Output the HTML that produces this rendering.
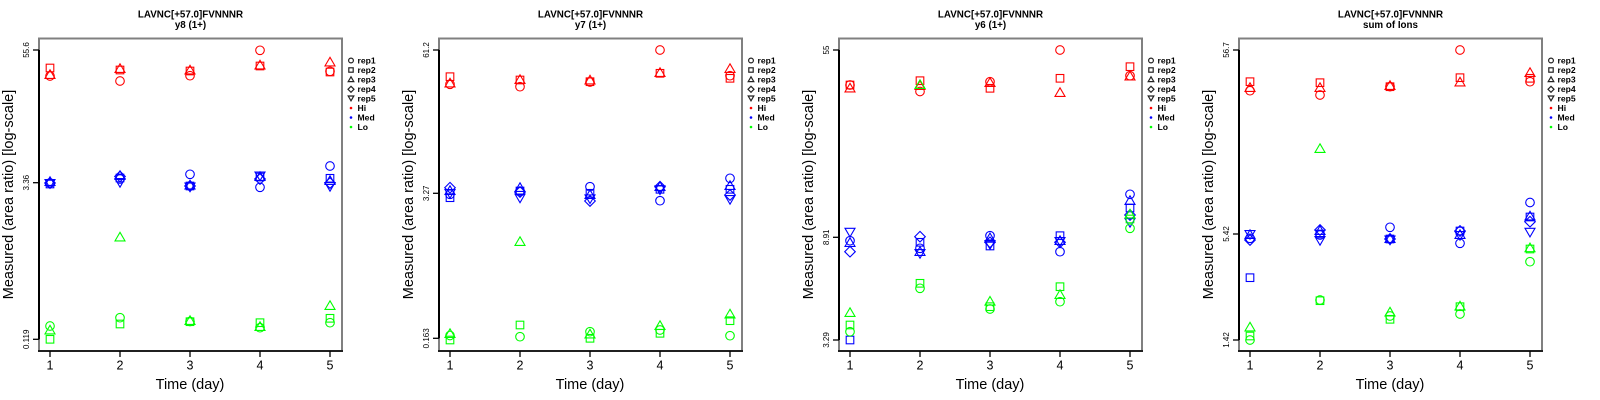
<!DOCTYPE html>
<html><head><meta charset="utf-8"><style>
html,body{margin:0;padding:0;background:#fff;}
svg{display:block;}
text{font-family:"Liberation Sans",Arial,sans-serif;}
</style></head><body>
<svg width="1600" height="400" viewBox="0 0 1600 400" xmlns="http://www.w3.org/2000/svg">
<defs>
<circle id="c" cx="0" cy="0" r="4.3"/>
<rect id="s" x="-3.8" y="-3.8" width="7.6" height="7.6"/>
<path id="t" d="M0,-5.2 L5,3.4 L-5,3.4 Z"/>
<path id="d" d="M0,-5.3 L5.3,0 L0,5.3 L-5.3,0 Z"/>
<path id="v" d="M0,5.2 L5,-3.4 L-5,-3.4 Z"/>
<g id="frame">
<rect x="39" y="38.5" width="303" height="312.5" fill="none" stroke="#808080" stroke-width="2"/>
<line x1="38" y1="351" x2="343" y2="351" stroke="#000" stroke-width="1.6"/>
<g stroke="#000" stroke-width="1.3">
<line x1="50" y1="351" x2="50" y2="357"/><line x1="120" y1="351" x2="120" y2="357"/><line x1="190" y1="351" x2="190" y2="357"/><line x1="260" y1="351" x2="260" y2="357"/><line x1="330" y1="351" x2="330" y2="357"/>
</g>
<g font-size="12.5" text-anchor="middle" fill="#000">
<text x="50" y="369.5">1</text><text x="120" y="369.5">2</text><text x="190" y="369.5">3</text><text x="260" y="369.5">4</text><text x="330" y="369.5">5</text>
</g>
<text x="190" y="389" font-size="14.5" text-anchor="middle">Time (day)</text>
<text transform="translate(13,194.5) rotate(-90)" font-size="14.5" text-anchor="middle">Measured (area ratio) [log-scale]</text>
<g stroke="#222" stroke-width="1.2" fill="none">
<circle cx="351" cy="60.5" r="2.4"/>
<rect x="348.8" y="67.8" width="4.4" height="4.4"/>
<path d="M351,76.8 L353.8,81.6 L348.2,81.6 Z"/>
<path d="M351,86.3 L354,89.3 L351,92.3 L348,89.3 Z"/>
<path d="M351,100.8 L353.8,96 L348.2,96 Z"/>
</g>
<circle cx="351" cy="108" r="1.3" fill="#f00"/>
<circle cx="351" cy="117.5" r="1.3" fill="#00f"/>
<circle cx="351" cy="127" r="1.3" fill="#0f0"/>
<g font-size="8.6" font-weight="bold" fill="#000">
<text x="357.5" y="63.5">rep1</text><text x="357.5" y="73">rep2</text><text x="357.5" y="82.5">rep3</text><text x="357.5" y="92">rep4</text><text x="357.5" y="101.5">rep5</text><text x="357.5" y="111">Hi</text><text x="357.5" y="120.5">Med</text><text x="357.5" y="130">Lo</text>
</g>
</g>
</defs>

<!-- Panel 1 -->
<g>
<use href="#frame"/>
<text x="190.5" y="17.5" font-size="9.8" font-weight="bold" text-anchor="middle">LAVNC[+57.0]FVNNNR</text>
<text x="190.5" y="28" font-size="9.8" font-weight="bold" text-anchor="middle">y8 (1+)</text>
<line x1="39" y1="50" x2="39" y2="339.3" stroke="#000" stroke-width="2"/>
<g stroke="#000" stroke-width="1.3"><line x1="33" y1="50" x2="39" y2="50"/><line x1="33" y1="182.7" x2="39" y2="182.7"/><line x1="33" y1="339.3" x2="39" y2="339.3"/></g>
<g font-size="8" text-anchor="middle">
<text transform="translate(29,50) rotate(-90)">55.6</text>
<text transform="translate(29,182.7) rotate(-90)">3.36</text>
<text transform="translate(29,339.3) rotate(-90)">0.119</text>
</g>
<g fill="none" stroke="#f00" stroke-width="1.1">
<use href="#s" x="50" y="68"/><use href="#t" x="50" y="75"/><use href="#c" x="50" y="76"/>
<use href="#s" x="120" y="70"/><use href="#t" x="120" y="69"/><use href="#c" x="120" y="81"/>
<use href="#s" x="190" y="71"/><use href="#t" x="190" y="70.5"/><use href="#c" x="190" y="75.7"/>
<use href="#c" x="260" y="50.3"/><use href="#s" x="260" y="66"/><use href="#t" x="260" y="65.5"/>
<use href="#t" x="330" y="62.5"/><use href="#s" x="330" y="72"/><use href="#c" x="330" y="71.3"/>
</g>
<g fill="none" stroke="#00f" stroke-width="1.1">
<use href="#c" x="50" y="183"/><use href="#s" x="50" y="184"/><use href="#t" x="50" y="182"/><use href="#d" x="50" y="183"/><use href="#v" x="50" y="183"/>
<use href="#c" x="120" y="179"/><use href="#s" x="120" y="178"/><use href="#t" x="120" y="176"/><use href="#d" x="120" y="176.5"/><use href="#v" x="120" y="182"/>
<use href="#c" x="190" y="174.3"/><use href="#s" x="190" y="186"/><use href="#t" x="190" y="185.5"/><use href="#d" x="190" y="186"/><use href="#v" x="190" y="186.5"/>
<use href="#c" x="260" y="187.3"/><use href="#s" x="260" y="177"/><use href="#t" x="260" y="177"/><use href="#d" x="260" y="179"/><use href="#v" x="260" y="175.5"/>
<use href="#c" x="330" y="166"/><use href="#s" x="330" y="178.3"/><use href="#t" x="330" y="181"/><use href="#d" x="330" y="183"/><use href="#v" x="330" y="186"/>
</g>
<g fill="none" stroke="#0f0" stroke-width="1.1">
<use href="#c" x="50" y="326"/><use href="#t" x="50" y="330.5"/><use href="#s" x="50" y="339.3"/>
<use href="#t" x="120" y="237.5"/><use href="#c" x="120" y="317.7"/><use href="#s" x="120" y="324"/>
<use href="#s" x="190" y="321.7"/><use href="#t" x="190" y="321"/><use href="#c" x="190" y="321.5"/>
<use href="#s" x="260" y="322.7"/><use href="#c" x="260" y="327.7"/><use href="#t" x="260" y="327"/>
<use href="#t" x="330" y="306"/><use href="#s" x="330" y="318.3"/><use href="#c" x="330" y="322.7"/>
</g>
</g>

<!-- Panel 2 -->
<g transform="translate(400,0)">
<use href="#frame"/>
<text x="190.5" y="17.5" font-size="9.8" font-weight="bold" text-anchor="middle">LAVNC[+57.0]FVNNNR</text>
<text x="190.5" y="28" font-size="9.8" font-weight="bold" text-anchor="middle">y7 (1+)</text>
<line x1="39" y1="50" x2="39" y2="338.3" stroke="#000" stroke-width="2"/>
<g stroke="#000" stroke-width="1.3"><line x1="33" y1="50" x2="39" y2="50"/><line x1="33" y1="193.3" x2="39" y2="193.3"/><line x1="33" y1="338.3" x2="39" y2="338.3"/></g>
<g font-size="8" text-anchor="middle">
<text transform="translate(29,50) rotate(-90)">61.2</text>
<text transform="translate(29,193.3) rotate(-90)">3.27</text>
<text transform="translate(29,338.3) rotate(-90)">0.163</text>
</g>
<g fill="none" stroke="#f00" stroke-width="1.1">
<use href="#s" x="50" y="76.7"/><use href="#c" x="50" y="84.3"/><use href="#t" x="50" y="83.5"/>
<use href="#s" x="120" y="80"/><use href="#t" x="120" y="80"/><use href="#c" x="120" y="86.7"/>
<use href="#s" x="190" y="81.7"/><use href="#t" x="190" y="80.5"/><use href="#c" x="190" y="82"/>
<use href="#c" x="260" y="50"/><use href="#s" x="260" y="73.3"/><use href="#t" x="260" y="73"/>
<use href="#t" x="330" y="69"/><use href="#s" x="330" y="78.3"/><use href="#c" x="330" y="75.7"/>
</g>
<g fill="none" stroke="#00f" stroke-width="1.1">
<use href="#c" x="50" y="194.3"/><use href="#s" x="50" y="197.7"/><use href="#t" x="50" y="191"/><use href="#d" x="50" y="187.7"/><use href="#v" x="50" y="193"/>
<use href="#c" x="120" y="191.7"/><use href="#s" x="120" y="191"/><use href="#t" x="120" y="188"/><use href="#d" x="120" y="192"/><use href="#v" x="120" y="197.5"/>
<use href="#c" x="190" y="186.7"/><use href="#s" x="190" y="193.3"/><use href="#t" x="190" y="195"/><use href="#d" x="190" y="201"/><use href="#v" x="190" y="198.3"/>
<use href="#c" x="260" y="200.7"/><use href="#s" x="260" y="189.3"/><use href="#t" x="260" y="187"/><use href="#d" x="260" y="186.7"/><use href="#v" x="260" y="189.3"/>
<use href="#c" x="330" y="178.3"/><use href="#s" x="330" y="189.3"/><use href="#t" x="330" y="186"/><use href="#d" x="330" y="195"/><use href="#v" x="330" y="199"/>
</g>
<g fill="none" stroke="#0f0" stroke-width="1.1">
<use href="#c" x="50" y="335.5"/><use href="#t" x="50" y="334"/><use href="#s" x="50" y="340"/>
<use href="#t" x="120" y="242"/><use href="#s" x="120" y="325"/><use href="#c" x="120" y="336.7"/>
<use href="#c" x="190" y="331.7"/><use href="#t" x="190" y="334.5"/><use href="#s" x="190" y="338.3"/>
<use href="#t" x="260" y="326"/><use href="#c" x="260" y="330"/><use href="#s" x="260" y="333.3"/>
<use href="#t" x="330" y="314.5"/><use href="#s" x="330" y="320.7"/><use href="#c" x="330" y="335.7"/>
</g>
</g>

<!-- Panel 3 -->
<g transform="translate(800,0)">
<use href="#frame"/>
<text x="190.5" y="17.5" font-size="9.8" font-weight="bold" text-anchor="middle">LAVNC[+57.0]FVNNNR</text>
<text x="190.5" y="28" font-size="9.8" font-weight="bold" text-anchor="middle">y6 (1+)</text>
<line x1="39" y1="50" x2="39" y2="340" stroke="#000" stroke-width="2"/>
<g stroke="#000" stroke-width="1.3"><line x1="33" y1="50" x2="39" y2="50"/><line x1="33" y1="237.3" x2="39" y2="237.3"/><line x1="33" y1="340" x2="39" y2="340"/></g>
<g font-size="8" text-anchor="middle">
<text transform="translate(29,50) rotate(-90)">55</text>
<text transform="translate(29,237.3) rotate(-90)">8.91</text>
<text transform="translate(29,340) rotate(-90)">3.29</text>
</g>
<g fill="none" stroke="#f00" stroke-width="1.1">
<use href="#c" x="50" y="85"/><use href="#s" x="50" y="85"/><use href="#t" x="50" y="88.5"/>
<use href="#s" x="120" y="80.7"/><use href="#t" x="120" y="86"/><use href="#c" x="120" y="91.5"/>
<use href="#c" x="190" y="81.7"/><use href="#t" x="190" y="83"/><use href="#s" x="190" y="88.3"/>
<use href="#c" x="260" y="50"/><use href="#s" x="260" y="78.3"/><use href="#t" x="260" y="93"/>
<use href="#s" x="330" y="66.7"/><use href="#c" x="330" y="75.7"/><use href="#t" x="330" y="76.5"/>
</g>
<g fill="none" stroke="#00f" stroke-width="1.1">
<use href="#v" x="50" y="231.7"/><use href="#c" x="50" y="240.7"/><use href="#t" x="50" y="243"/><use href="#d" x="50" y="251.7"/><use href="#s" x="50" y="340"/>
<use href="#d" x="120" y="236.7"/><use href="#s" x="120" y="242.3"/><use href="#c" x="120" y="248.3"/><use href="#t" x="120" y="252"/><use href="#v" x="120" y="253"/>
<use href="#c" x="190" y="235.7"/><use href="#t" x="190" y="238.3"/><use href="#d" x="190" y="242.3"/><use href="#s" x="190" y="246"/><use href="#v" x="190" y="244"/>
<use href="#s" x="260" y="235.7"/><use href="#d" x="260" y="242.3"/><use href="#t" x="260" y="241"/><use href="#v" x="260" y="241"/><use href="#c" x="260" y="251.7"/>
<use href="#c" x="330" y="194.3"/><use href="#t" x="330" y="201"/><use href="#s" x="330" y="208"/><use href="#d" x="330" y="215"/><use href="#v" x="330" y="222"/>
</g>
<g fill="none" stroke="#0f0" stroke-width="1.1">
<use href="#t" x="50" y="313"/><use href="#s" x="50" y="325"/><use href="#c" x="50" y="331.7"/>
<use href="#t" x="120" y="85"/><use href="#s" x="120" y="283.3"/><use href="#c" x="120" y="288.3"/>
<use href="#t" x="190" y="301.7"/><use href="#s" x="190" y="306.7"/><use href="#c" x="190" y="309"/>
<use href="#s" x="260" y="286.7"/><use href="#t" x="260" y="295"/><use href="#c" x="260" y="301.7"/>
<use href="#t" x="330" y="214.5"/><use href="#s" x="330" y="219"/><use href="#c" x="330" y="228.3"/>
</g>
</g>

<!-- Panel 4 -->
<g transform="translate(1200,0)">
<use href="#frame"/>
<text x="190.5" y="17.5" font-size="9.8" font-weight="bold" text-anchor="middle">LAVNC[+57.0]FVNNNR</text>
<text x="190.5" y="28" font-size="9.8" font-weight="bold" text-anchor="middle">sum of Ions</text>
<line x1="39" y1="50" x2="39" y2="340" stroke="#000" stroke-width="2"/>
<g stroke="#000" stroke-width="1.3"><line x1="33" y1="50" x2="39" y2="50"/><line x1="33" y1="234" x2="39" y2="234"/><line x1="33" y1="340" x2="39" y2="340"/></g>
<g font-size="8" text-anchor="middle">
<text transform="translate(29,50) rotate(-90)">56.7</text>
<text transform="translate(29,234) rotate(-90)">5.42</text>
<text transform="translate(29,340) rotate(-90)">1.42</text>
</g>
<g fill="none" stroke="#f00" stroke-width="1.1">
<use href="#s" x="50" y="81.7"/><use href="#t" x="50" y="88"/><use href="#c" x="50" y="90.7"/>
<use href="#s" x="120" y="82.7"/><use href="#t" x="120" y="88"/><use href="#c" x="120" y="95"/>
<use href="#c" x="190" y="86.7"/><use href="#s" x="190" y="86.7"/><use href="#t" x="190" y="86"/>
<use href="#c" x="260" y="50"/><use href="#s" x="260" y="77.7"/><use href="#t" x="260" y="82.5"/>
<use href="#t" x="330" y="73"/><use href="#s" x="330" y="78.3"/><use href="#c" x="330" y="81.7"/>
</g>
<g fill="none" stroke="#00f" stroke-width="1.1">
<use href="#c" x="50" y="238.3"/><use href="#s" x="50" y="277.7"/><use href="#t" x="50" y="235"/><use href="#d" x="50" y="240"/><use href="#v" x="50" y="234"/>
<use href="#c" x="120" y="235"/><use href="#s" x="120" y="234"/><use href="#t" x="120" y="231"/><use href="#d" x="120" y="230"/><use href="#v" x="120" y="240"/>
<use href="#c" x="190" y="227.3"/><use href="#s" x="190" y="239"/><use href="#t" x="190" y="239"/><use href="#d" x="190" y="239"/><use href="#v" x="190" y="239.5"/>
<use href="#c" x="260" y="243.3"/><use href="#s" x="260" y="231"/><use href="#t" x="260" y="235"/><use href="#d" x="260" y="231"/><use href="#v" x="260" y="235"/>
<use href="#c" x="330" y="202.5"/><use href="#s" x="330" y="217"/><use href="#t" x="330" y="216.5"/><use href="#d" x="330" y="221.7"/><use href="#v" x="330" y="231.7"/>
</g>
<g fill="none" stroke="#0f0" stroke-width="1.1">
<use href="#t" x="50" y="327.5"/><use href="#s" x="50" y="336"/><use href="#c" x="50" y="340"/>
<use href="#t" x="120" y="149"/><use href="#s" x="120" y="300.7"/><use href="#c" x="120" y="300"/>
<use href="#t" x="190" y="312.5"/><use href="#s" x="190" y="319.3"/><use href="#c" x="190" y="316"/>
<use href="#t" x="260" y="306.5"/><use href="#s" x="260" y="306.7"/><use href="#c" x="260" y="314"/>
<use href="#s" x="330" y="249"/><use href="#t" x="330" y="248.3"/><use href="#c" x="330" y="261.7"/>
</g>
</g>
</svg>
</body></html>
